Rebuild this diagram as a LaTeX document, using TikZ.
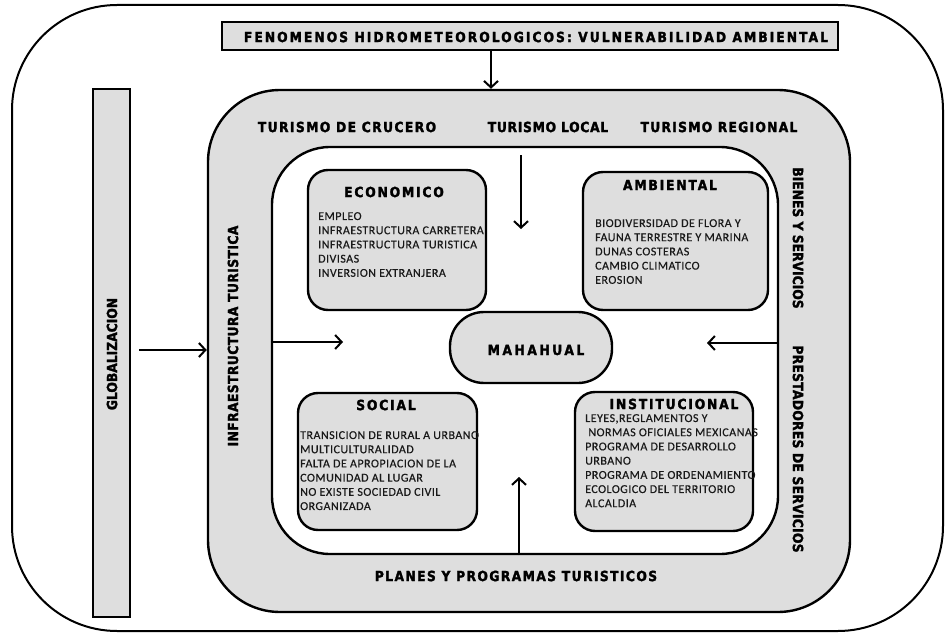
\documentclass[tikz,border=0pt]{standalone}
\usepackage{fontspec}
\setmainfont{Carlito}
\newfontfamily\hf[FakeStretch=0.88, FakeBold=2]{DejaVu Sans}
\newfontfamily\bodyf[LetterSpace=4, FakeBold=0.4]{Carlito}
\usetikzlibrary{arrows.meta}
\definecolor{texgray}{gray}{0.87}
\newcommand{\hfs}[1]{\hf\bfseries\fontsize{14}{16}\selectfont\addfontfeature{LetterSpace=#1}}
\begin{document}
\begin{tikzpicture}[x=1pt,y=-1pt,
  frame/.style={draw, line width=2pt, rounded corners=105pt, inner sep=0pt},
  band/.style={draw, line width=2.4pt, fill=texgray, inner sep=0pt},
  card/.style={draw, line width=2.4pt, fill=texgray, rounded corners=20pt, inner sep=0pt},
  outlbl/.style={font=\hfs{#1}, inner sep=0pt},
  outlbl/.default=0,
  cardhead/.style={font=\hfs{13}, inner sep=0pt},
  body/.style={font=\bodyf\fontsize{12}{14.2}\selectfont, align=left, anchor=north west, inner sep=0pt, text=black!90},
  arr/.style={line width=2pt, -{Straight Barb[length=6.5pt,width=14pt]}}
]
\useasboundingbox (0,0) rectangle (946,634);
% frames
\node[frame, minimum width=931pt, minimum height=626pt] (outer) at (477.5,318) {};
\node[band, minimum width=616pt, minimum height=28pt] (fen) at (530,36) {};
\node[outlbl=14.5] (fentxt) at (536,37) {FENOMENOS HIDROMETEOROLOGICOS: VULNERABILIDAD AMBIENTAL};
\node[band, minimum width=37pt, minimum height=528pt] (glob) at (111.5,353) {};
\node[band, rounded corners=72pt, minimum width=642pt, minimum height=522pt] (mid) at (529,351) {};
\node[draw, line width=2.4pt, fill=white, rounded corners=58pt, inner sep=0pt, minimum width=506pt, minimum height=407pt] (inner) at (525,350.5) {};
% cards
\node[card, minimum width=178pt, minimum height=140pt] (eco) at (397,240) {};
\node[card, minimum width=185pt, minimum height=138pt] (amb) at (675.5,241) {};
\node[card, minimum width=179pt, minimum height=137pt] (soc) at (387.5,461.5) {};
\node[card, minimum width=178pt, minimum height=139pt] (inst) at (664,461.5) {};
\node[card, rounded corners=34pt, minimum width=162pt, minimum height=71pt] (mah) at (531,347.5) {};
% outer labels
\node[outlbl=0, rotate=90] (globtxt) at (112,354) {GLOBALIZACION};
\node[outlbl=3, rotate=90] (infra) at (233,336) {INFRAESTRUCTURA TURISTICA};
\node[outlbl=0, rotate=-90] (bienes) at (798,238) {BIENES Y SERVICIOS};
\node[outlbl=2, rotate=-90] (prest) at (798,449) {PRESTADORES DE SERVICIOS};
\node[outlbl=10] (tcru) at (347,127) {TURISMO DE CRUCERO};
\node[outlbl=5] (tloc) at (548,127) {TURISMO LOCAL};
\node[outlbl=9] (treg) at (719,127) {TURISMO REGIONAL};
\node[outlbl=10] (planes) at (516,576) {PLANES Y PROGRAMAS TURISTICOS};
% card headings
\node[cardhead] (ecoh) at (394,192) {ECONOMICO};
\node[cardhead] (ambh) at (670,185) {AMBIENTAL};
\node[cardhead] (soch) at (386,405) {SOCIAL};
\node[cardhead] (insth) at (674,404) {INSTITUCIONAL};
\node[cardhead, font=\hfs{18}] (mahh) at (536,350) {MAHAHUAL};
% bodies
\node[body] (ecob) at (318,212) {EMPLEO\\INFRAESTRUCTURA CARRETERA\\INFRAESTRUCTURA TURISTICA\\DIVISAS\\INVERSION EXTRANJERA};
\node[body] (ambb) at (595,219) {BIODIVERSIDAD DE FLORA Y\\FAUNA TERRESTRE Y MARINA\\DUNAS COSTERAS\\CAMBIO CLIMATICO\\EROSION};
\node[body] (socb) at (300,431) {TRANSICION DE RURAL A URBANO\\MULTICULTURALIDAD\\FALTA DE APROPIACION DE LA\\COMUNIDAD AL LUGAR\\NO EXISTE SOCIEDAD CIVIL\\ORGANIZADA};
\node[body] (instb) at (585,414) {LEYES,REGLAMENTOS Y\\\ NORMAS OFICIALES MEXICANAS\\PROGRAMA DE DESARROLLO\\URBANO\\PROGRAMA DE ORDENAMIENTO\\ECOLOGICO DEL TERRITORIO\\ALCALDIA};
% arrows
\coordinate (arrL) at (343,342);
\coordinate (arrR) at (707,343);
\coordinate (dTop) at (521,155);
\coordinate (dBot) at (521,229);
\coordinate (uTop) at (519,477);
\draw[arr] ([xshift=-39pt]fen.south) -- ([xshift=-38pt]mid.north);
\draw[arr] ([xshift=8pt,yshift=3pt]glob.east) -- ([yshift=1pt]mid.west);
\draw[arr] ([yshift=8.5pt]inner.west) -- (arrL);
\draw[arr] ([yshift=7.5pt]inner.east) -- (arrR);
\draw[arr] (dTop) -- (dBot);
\draw[arr] ([xshift=-6pt]inner.south) -- (uTop);
\end{tikzpicture}
\end{document}
